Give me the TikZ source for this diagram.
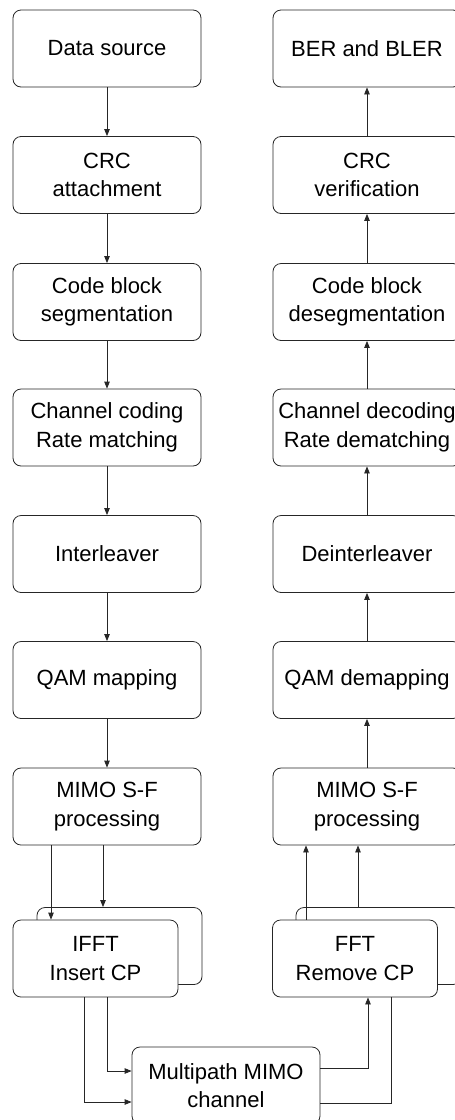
\documentclass[tikz,border=0pt]{standalone}
\usepackage{fontspec}
\setmainfont{Liberation Sans}
\usetikzlibrary{arrows.meta,calc}
\begin{document}
\begin{tikzpicture}[x=1pt,y=-1pt,
  blk/.style={draw=black!85, line width=0.8pt, rounded corners=8pt, fill=white,
    minimum width=188pt, minimum height=77pt, inner sep=0pt, align=center,
    font=\fontsize{22}{28.5}\selectfont},
  sblk/.style={blk, minimum width=165pt},
  arr/.style={draw=black!85, line width=0.8pt, -{Triangle[length=7pt,width=5.5pt]}},
  ln/.style={draw=black!85, line width=0.8pt}]
\useasboundingbox (0,0) rectangle (455,1120);
% transmitter column
\node[blk] (ds)   at (107,48.5)  {Data source};
\node[blk] (crc)  at (107,175)   {CRC\\attachment};
\node[blk] (cbs)  at (107,302)   {Code block\\segmentation};
\node[blk] (cc)   at (107,427.5) {Channel coding\\Rate matching};
\node[blk] (il)   at (107,554)   {Interleaver};
\node[blk] (qam)  at (107,680)   {QAM mapping};
\node[blk] (mt)   at (107,806.5) {MIMO S-F\\processing};
\node[sblk] (ifb) at (119.5,946) {};
\node[sblk] (iff) at (95.5,958.5) {IFFT\\Insert CP};
% receiver column
\node[blk] (ber)  at (367,48.5)  {BER and BLER};
\node[blk] (crv)  at (367,175)   {CRC\\verification};
\node[blk] (cbd)  at (367,302)   {Code block\\desegmentation};
\node[blk] (cd)   at (367,427.5) {Channel decoding\\Rate dematching};
\node[blk] (dil)  at (367,554)   {Deinterleaver};
\node[blk] (qdm)  at (367,680)   {QAM demapping};
\node[blk] (mr)   at (367,806.5) {MIMO S-F\\processing};
\node[sblk] (ffb) at (378.5,946) {};
\node[sblk] (fff) at (355,958.5) {FFT\\Remove CP};
% channel
\node[blk] (ch) at (226,1085.5) {Multipath MIMO\\channel};
% tx arrows
\draw[arr] (ds) -- (crc);
\draw[arr] (crc) -- (cbs);
\draw[arr] (cbs) -- (cc);
\draw[arr] (cc) -- (il);
\draw[arr] (il) -- (qam);
\draw[arr] (qam) -- (mt);
\draw[arr] (51,0 |- mt.south) -- (51,0 |- iff.north);
\draw[arr] (103,0 |- mt.south) -- (103,0 |- ifb.north);
\draw[arr] (84,0 |- iff.south) |- (ch.west |- 0,1102);
\draw[arr] (107,0 |- iff.south) |- (ch.west |- 0,1071);
% channel to rx
\draw[arr] (ch.east |- 0,1068) -| (368,0 |- fff.south);
\draw[ln] (ch.east |- 0,1103) -| (391,0 |- fff.south);
\draw[arr] (306,0 |- fff.north) -- (306,0 |- mr.south);
\draw[arr] (358,0 |- ffb.north) -- (358,0 |- mr.south);
% rx arrows
\draw[arr] (mr) -- (qdm);
\draw[arr] (qdm) -- (dil);
\draw[arr] (dil) -- (cd);
\draw[arr] (cd) -- (cbd);
\draw[arr] (cbd) -- (crv);
\draw[arr] (crv) -- (ber);
\end{tikzpicture}
\end{document}
